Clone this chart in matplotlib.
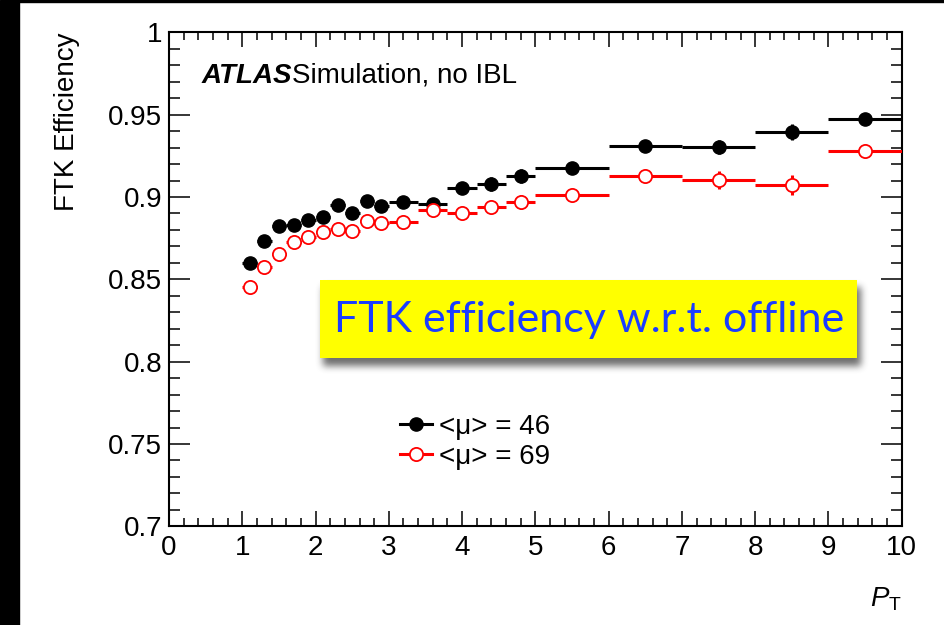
import numpy as np
import matplotlib
matplotlib.use("Agg")
import matplotlib.pyplot as plt
from matplotlib.lines import Line2D
from matplotlib.patches import Rectangle
from matplotlib.ticker import MultipleLocator

plt.rcParams["font.family"] = ["Liberation Sans", "DejaVu Sans"]
plt.rcParams["mathtext.fontset"] = "custom"
plt.rcParams["mathtext.it"] = "Liberation Sans:italic"
plt.rcParams["mathtext.rm"] = "Liberation Sans"

# pT binning
bin_edges = [1.0, 1.2, 1.4, 1.6, 1.8, 2.0, 2.2, 2.4, 2.6, 2.8, 3.0,
             3.4, 3.8, 4.2, 4.6, 5.0, 6.0, 7.0, 8.0, 9.0, 10.0]

# efficiency for <mu> = 46
eff_mu46 = [0.860, 0.873, 0.8825, 0.883, 0.886, 0.888, 0.895, 0.890, 0.8975, 0.8945,
            0.897, 0.896, 0.9056, 0.9077, 0.9127, 0.9173, 0.9308, 0.9303, 0.9396, 0.9472]
err_mu46 = [0.002, 0.002, 0.002, 0.002, 0.002, 0.002, 0.002, 0.002, 0.002, 0.002,
            0.002, 0.002, 0.003, 0.0043, 0.0045, 0.003, 0.003, 0.0045, 0.005, 0.003]

# efficiency for <mu> = 69
eff_mu69 = [0.8455, 0.8577, 0.8654, 0.8725, 0.8759, 0.8785, 0.8806, 0.8795, 0.8856, 0.8842,
            0.8848, 0.8921, 0.8903, 0.8937, 0.8968, 0.9010, 0.9127, 0.9105, 0.9073, 0.9281]
err_mu69 = [0.002, 0.002, 0.002, 0.002, 0.002, 0.002, 0.002, 0.002, 0.002, 0.002,
            0.002, 0.002, 0.003, 0.003, 0.0043, 0.003, 0.003, 0.0055, 0.006, 0.003]

labels = ["<\u03bc> = 46", "<\u03bc> = 69"]

edges = np.array(bin_edges)
centers = 0.5 * (edges[:-1] + edges[1:])
half_w = 0.5 * (edges[1:] - edges[:-1])

W, H = 944, 625
fig = plt.figure(figsize=(W / 100, H / 100), dpi=100)

# dark frame on the left and top edge
fig.patches.append(Rectangle((0, 0), 19 / W, 1, transform=fig.transFigure,
                             color="black", zorder=0))
fig.patches.append(Rectangle((19 / W, 1 - 2 / H), 1, 2 / H, transform=fig.transFigure,
                             color="black", zorder=0))

ax = fig.add_axes([169 / W, 1 - 526.3 / H, 732.7 / W, 494 / H])
ax.set_xlim(0, 10)
ax.set_ylim(0.7, 1.0)

ax.errorbar(centers, eff_mu46, xerr=half_w, yerr=err_mu46, fmt="o", color="black",
            ms=9.5, elinewidth=2.2, capsize=0, zorder=3)
ax.errorbar(centers, eff_mu69, xerr=half_w, yerr=err_mu69, fmt="o", color="red",
            mfc="white", mec="red", mew=1.3, ms=9.5, elinewidth=2.2, capsize=0, zorder=4)

for s in ax.spines.values():
    s.set_linewidth(1.5)

ax.xaxis.set_major_locator(MultipleLocator(1))
ax.xaxis.set_minor_locator(MultipleLocator(0.2))
ax.yaxis.set_major_locator(MultipleLocator(0.05))
ax.yaxis.set_minor_locator(MultipleLocator(0.01))
ax.tick_params(which="both", direction="in", top=True, right=True, labelsize=20, width=1.1)
ax.tick_params(axis="x", which="major", length=11, pad=6)
ax.tick_params(axis="x", which="minor", length=5.5)
ax.tick_params(axis="y", which="major", length=15, pad=5)
ax.tick_params(axis="y", which="minor", length=8)
ax.set_yticks([0.7, 0.75, 0.8, 0.85, 0.9, 0.95, 1.0])
ax.set_yticklabels(["0.7", "0.75", "0.8", "0.85", "0.9", "0.95", "1"])

ax.set_ylabel("FTK Efficiency", loc="top", fontsize=20, labelpad=20)
ax.set_xlabel(r"$P_{\rm T}$", loc="right", fontsize=20, labelpad=18)

ax.text(0.446, 0.9694, "ATLAS", fontsize=20, weight="bold", style="italic", va="baseline")
ax.text(1.675, 0.9694, "Simulation, no IBL", fontsize=20, va="baseline")

handles = [
    Line2D([], [], color="black", marker="o", ms=9.5, lw=2.2),
    Line2D([], [], color="red", marker="o", mfc="white", mec="red", mew=1.3, ms=9.5, lw=2.2),
]
ax.legend(handles, labels, loc="upper left", bbox_to_anchor=(386 / W, 1 - 400 / H),
          bbox_transform=fig.transFigure, frameon=False, fontsize=20,
          handlelength=1.15, handletextpad=0.25, labelspacing=0.15, borderpad=0)

# highlighted caption with a soft drop shadow
ox0, ox1, oy0, oy1 = 300, 885, 265, 395
cap = fig.add_axes([ox0 / W, 1 - oy1 / H, (ox1 - ox0) / W, (oy1 - oy0) / H], zorder=5)
cap.set_xlim(ox0, ox1)
cap.set_ylim(oy1, oy0)
cap.axis("off")

bx0, bx1, by0, by1 = 320, 857, 280, 358
gx = np.arange(ox0, ox1) + 0.5
gy = np.arange(oy0, oy1) + 0.5
mask = ((gx[None, :] > bx0 + 3) & (gx[None, :] < bx1 + 4) &
        (gy[:, None] > by0 + 7) & (gy[:, None] < by1 + 8)).astype(float)
kern = np.ones(7) / 7
for _ in range(3):
    mask = np.apply_along_axis(lambda r: np.convolve(r, kern, mode="same"), 1, mask)
    mask = np.apply_along_axis(lambda c: np.convolve(c, kern, mode="same"), 0, mask)
shadow = np.zeros(mask.shape + (4,))
shadow[..., :3] = 0.25
shadow[..., 3] = 0.75 * mask
cap.imshow(shadow, extent=(ox0, ox1, oy1, oy0), interpolation="bilinear", aspect="auto")
cap.add_patch(Rectangle((bx0, by0), bx1 - bx0, by1 - by0, facecolor="#ffff00",
                        edgecolor="none"))
cap.text(0.5 * (bx0 + bx1) + 1, 0.5 * (by0 + by1) + 1, "FTK efficiency w.r.t. offline",
         family=["Lato", "DejaVu Sans"], fontsize=31, color="#1a3cff",
         ha="center", va="center")

fig.savefig("out.png", dpi=100)
